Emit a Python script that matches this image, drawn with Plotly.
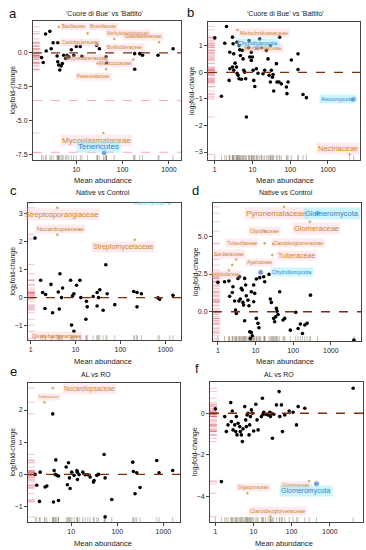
import math
import plotly.graph_objects as go

# ======================= DATA =======================
# panel a : 'Cuore di Bue' vs 'Battito'
a_x = [1.78, 1.93, 2.17, 2.24, 2.68, 2.87, 3.16, 3.98, 3.85, 3.98, 4.17, 4.39, 4.7, 5.0, 5.35, 5.9, 6.3,
       6.9, 7.8, 8.8, 10, 12.2, 13.2, 27.7, 31.6, 44, 45, 182, 182, 234, 268, 580, 1230]
a_y = [-0.34, -0.70, 1.39, 0.14, 1.59, 0.31, 0.75, 0.75, -0.22, -0.65, -0.89, -1.25, -0.96, -0.77, -0.17,
       -0.41, -0.17, -0.29, 0.24, -0.17, 0.48, 0.48, -0.24, 0.55, 0.31, -0.29, -0.72, -0.05, -1.2, -0.05,
       -0.17, -0.17, 0.31]
a_names = ['Bacillaceae', 'Brucellaceae', 'Methylobacteriaceae', 'Oxalobacteraceae', 'Caulobacteraceae',
           'Burkholderiaceae', 'Corynebacteriaceae', 'Micrococcaceae', 'Pasteurellaceae',
           'Mycoplasmataceae', 'Tenericutes']
a_lx = [4.17, 17.5, 66, 610, 28.7, 170, 28.7, 44, 44, 38.5, 39.8]
a_ly = [1.92, 1.44, 1.03, 0.79, 0.67, -0.48, -0.77, -0.48, -1.2, -5.89, -7.33]
a_kind = ['o'] * 10 + ['b']
a_ref = [-3.5, -7.3]

# panel b : 'Cuore di Bue' vs 'Battito'
b_x = [1.0, 1.5, 1.84, 2.04, 2.5, 2.4, 2.5, 2.94, 2.94, 3.18, 3.06, 3.18, 3.45, 3.75, 3.9, 3.9, 4.15, 4.4,
       4.4, 4.59, 4.78, 5.08, 5.4, 5.62, 5.86, 6.22, 6.6, 6.9, 7.8, 8.1, 8.45, 9.3, 9.3, 9.9, 10.4, 10.8,
       11.5, 12.7, 14.0, 17.2, 15.5, 19, 21, 23.3, 25.8, 27.5, 29.8, 31.6, 33.6, 35, 36.5, 43, 44.7, 52.6,
       50.4, 58, 79, 82, 87.5, 107, 161, 161, 218, 268, 29.8]
b_y = [1.3, -0.9, 1.1, 1.73, 0.76, -0.3, 0.14, 1.33, 0.2, 0.7, 1.08, 0.08, 0.35, 0.2, 1.14, -0.03, -0.11,
       -0.24, 1.01, 0.85, 0.64, -0.26, 0.83, 0.51, 0.08, 0.01, -0.24, -1.68, 0.95, 1.2, 0.58, 0.76, 0.45,
       0.58, 0.08, -0.3, -0.53, 0.14, -0.03, 0.95, 1.26, -0.05, 0.08, 0.83, 0.51, -0.11, -0.36, 0.08, -0.18,
       -0.08, -0.7, 0.33, -0.36, 1.33, -0.36, -0.43, -0.55, -0.8, -0.36, 0.47, 0.7, 0.11, -0.83, -0.95, 1.01]
b_names = ['Metschnikowiaceae', 'Mortierellaceae', 'Chytridiomycota', 'Ascomycota', 'Nectriaceae']
b_lx = [3.98, 17.2, 13.2, 4790, 3760]
b_ly = [1.6, 1.04, 0.93, -1.01, -3.09]
b_kind = ['o', 'o', 'b', 'b', 'o']

# panel c : Native vs Control
c_x = [1.25, 1.67, 1.85, 2.15, 2.08, 2.83, 3.08, 4.12, 4.33, 4.49, 4.88, 5.14, 7.74, 8.15, 8.58, 9.18, 9.18,
       10.5, 12.5, 13.1, 17, 17.5, 18.2, 24.7, 30.2, 30.2, 32.4, 34.7, 41.2, 47.2, 50.6, 74.8, 198, 234, 234,
       293, 687, 748, 1480]
c_y = [2.12, 0.62, 0.18, 0.11, -0.39, 0.47, -0.54, 0.2, -0.41, 0.85, 0.0, 0.34, 0.62, -0.98, 0.06, 0.14,
       -1.2, 0.44, 0.62, 0.0, -0.77, -0.13, -0.33, 0.04, 0.18, -0.3, 0.0, 0.28, -0.45, 1.17, 0.14, -0.25,
       0.22, 0.18, -0.33, 0.14, -0.01, -0.06, 0.08]
c_names = ['Streptosporangiaceae', 'Nocardiopsaceae', 'Streptomycetaceae', 'Oxalobacteraceae', 'Ascomycota']
c_lx = [3.91, 3.91, 208, 4.33, 1250]
c_ly = [3.2, 2.24, 2.06, -1.46, 3.37]
c_kind = ['o', 'o', 'o', 'o', 'g']

# panel d : Native vs Control
d_x = [1.0, 1.5, 1.96, 2.05, 2.41, 2.51, 2.78, 2.95, 3.08, 3.41, 3.77, 3.62, 3.93, 4.18, 4.44, 4.63, 4.82,
       5.13, 5.13, 5.45, 5.68, 6.3, 6.69, 6.97, 7.26, 7.71, 8.2, 7.71, 8.9, 9.46, 8.9, 10.5, 10.5, 11.6, 12.3,
       12.9, 16.4, 17.5, 22.8, 24.7, 26.3, 30.3, 32.2, 34.3, 35.7, 37.2, 39.5, 43.8, 53.7, 59.5, 84, 117,
       135, 155, 176, 203, 234, 287, 4090]
d_y = [1.95, 1.99, 2.04, 1.02, 1.28, 1.66, 0.71, 0.11, -0.11, 2.21, 2.32, 0.71, 0.84, 1.55, 1.44, 0.62,
       0.44, 2.21, -0.6, 1.77, 1.06, 0.77, 0.4, -1.33, -1.77, -1.37, -1.59, 1.33, 1.77, 1.22, 0.66, 2.17,
       -0.44, -0.77, -1.06, 2.26, 2.32, 1.99, 2.48, 0.84, 0.62, -0.44, -0.66, -0.33, 0.22, 0.04, -0.18, 1.33,
       -0.55, -0.44, -1.22, -0.04, -1.11, -0.82, -1.44, -0.88, -0.77, 1.1, -1.88]
d_names = ['Pyronemataceae', 'Glomeraceae', 'Glomeromycota', 'Olpidiaceae', 'Tubeufiaceae',
           'Claroideoglomeraceae', 'Tuberaceae', 'Sordariaceae', 'Agaricaceae', 'Ascobolaceae',
           'Chytridiomycota']
d_lx = [57, 275, 441, 17.5, 17.5, 29.1, 27.9, 3.08, 2.41, 1.96, 13.7]
d_ly = [6.95, 5.97, 6.53, 5.35, 4.54, 4.49, 3.76, 3.47, 3.1, 2.74, 2.61]
d_kind = ['o', 'o', 'b', 'o', 'o', 'o', 'o', 'o', 'o', 'o', 'b']

# panel e : AL vs RO
e_x = [1.66, 1.8, 2.06, 2.13, 2.73, 2.97, 4.0, 4.14, 4.28, 4.5, 4.65, 4.9, 5.32, 5.32, 7.8, 8.3, 8.75, 9.5,
       9.2, 10.3, 11.6, 13.3, 13.7, 13.7, 14.9, 17.9, 20.1, 23, 25.8, 30.5, 31.5, 36, 39.1, 51.9, 54.5, 54.5,
       76, 217, 224, 243, 264, 312, 717, 805, 1590]
e_y = [0.0, -0.34, -0.84, 0.07, -0.39, -0.36, 1.88, -0.86, 0.12, 0.0, 0.45, -0.03, -0.05, -0.81, 0.23,
       -0.32, 0.36, -0.44, -0.11, 0.07, -0.03, 0.12, 0.07, -0.16, -0.01, 0.07, -0.01, -0.01, -0.08, -0.24,
       -0.19, -0.03, 0.0, 0.62, -1.32, -0.11, -0.78, 0.38, 0.09, -0.6, 0.05, -0.41, 0.43, 0.05, 0.12]
e_names = ['Nocardiopsaceae', 'Kofleriaceae']
e_lx = [4.0, 2.64]
e_ly = [2.68, 2.24]
e_kind = ['o', 'o']

# panel f : AL vs RO
f_x = [1.0, 1.44, 1.76, 1.94, 2.15, 2.53, 2.63, 2.79, 2.91, 3.22, 3.42, 3.56, 3.7, 3.94, 4.35, 4.53, 4.81,
       5.11, 5.32, 5.89, 6.25, 6.51, 6.78, 7.2, 7.65, 7.96, 8.3, 8.8, 9.36, 10.1, 11.5, 12.4, 13.2, 16.1,
       17.1, 17.8, 18.6, 20.9, 24.1, 26.7, 27.8, 29.5, 31.3, 34, 39.9, 46.9, 48.8, 54, 57.4, 66, 85.9, 109,
       134, 148, 221, 4100]
f_y = [0.21, -3.28, -0.16, -0.88, -0.56, 0.51, -0.4, 0.11, -0.8, -0.56, -0.88, -0.16, -1.04, -0.48, -0.64,
       -0.88, -1.04, -1.36, -0.75, 0.32, -0.32, -0.64, -0.08, 0.0, -1.04, -0.56, -0.16, 0.16, 0.0, -0.85,
       0.43, -0.32, -0.8, -0.16, 0.72, -0.05, 0.05, -0.05, -0.08, 0.05, -0.16, 0.0, -1.2, -0.05, 0.4, 1.04,
       -0.16, 0.4, -0.88, -0.08, 0.11, 0.05, -0.56, 0.32, 0.24, 1.2]
f_names = ['Glomeraceae', 'Glomeromycota', 'Gigasporaceae', 'Claroideoglomeraceae']
f_lx = [287, 448, 6.92, 27.8]
f_ly = [-3.25, -3.39, -3.84, -4.96]
f_kind = ['o', 'b', 'o', 'o']

titles = ["'Cuore di Bue' vs 'Battito'", "'Cuore di Bue' vs 'Battito'", "Native vs Control",
          "Native vs Control", "AL vs RO", "AL vs RO"]
letters = ['a', 'b', 'c', 'd', 'e', 'f']

# ======================= STYLE / LAYOUT =======================
W, H = 366, 550
FONT = "Liberation Sans, Arial, sans-serif"

a_dx = [15, 16, 14, -16, -17, -8, -11, 9, -13, -7, -6]
a_dy = [0, 7, 5, 6, 1, 12, 5, -4, -7, -7, 6]
a_fs = [4.5] * 9 + [8, 8]
b_dx = [27, 2, 1, -16, -12]
b_dy = [-3, -3, 5, 0, 6]
b_fs = [5.5, 5.5, 5.5, 6, 7.5]
c_dx = [4, 3, -12, -3, -20]
c_dy = [-7, 6, -7, 3, 0]
c_fs = [7.5, 6, 7, 6, 5.5]
d_dx = [-8, 7, 15, 0, -23, 25, 24, -7, 28, -3, 31]
d_dy = [-7, -7, 0, 0, 0, 1, 0, 5, 2, -4, 0]
d_fs = [8, 7.5, 7.5, 5.5, 5, 5, 7, 5, 4.5, 4.5, 5.5]
e_dx = [37, 5]
e_dy = [-1, 5]
e_fs = [6.5, 3.5]
f_dx = [-13, -11, 6, 7]
f_dy = [-5, -7, 6, 6]
f_fs = [4.5, 7, 4.5, 5.5]

# pixel boxes of each plot area: (left, right, top, bottom)
boxes = [(33, 181, 21, 160), (208, 360, 22, 160),
         (28, 181, 203, 340), (213, 361, 203, 341),
         (28, 180, 383, 522), (210, 363, 382, 522)]
xranges = [[0.065, 3.26], [-0.18, 3.85], [-0.06, 3.35], [-0.13, 3.8], [0.065, 3.36], [-0.14, 3.87]]
yranges = [[-7.87, 2.35], [-3.3, 1.9], [-1.51, 3.37], [-1.94, 7.21], [-1.48, 2.84], [-5.22, 1.5]]
yticks = [([-7.5, -5, -2.5, 0], ['-7.5', '-5.0', '-2.5', '0.0']),
          ([-3, -2, -1, 0, 1], None),
          ([-1, 0, 1, 2, 3], None),
          ([0, 2.5, 5], ['0.0', '2.5', '5.0']),
          ([-1, 0, 1, 2], None),
          ([-4, -2, 0], None)]
xtick_vals = [1, 10, 100, 1000]
title_pos = [(104, 13), (285, 13), (103, 193), (286, 193), (96, 374), (279, 374)]
letter_pos = [(13, 13), (190, 12), (13, 190), (195, 190), (13, 371), (197, 368)]
xtitle_pos = [(103, 180), (285, 180), (103, 361), (285, 361), (103, 543), (284, 543)]
ytitle_x = [12, 192, 12, 196, 12, 195]

ORANGE = '#c8862a'
BLUE_PT = '#3c6fc4'
BLUE_TX = '#3a7ec8'
GHOST = 'rgba(70,215,235,0.85)'

panels = [
    (a_x, a_y, a_names, a_lx, a_ly, a_kind, a_dx, a_dy, a_fs),
    (b_x, b_y, b_names, b_lx, b_ly, b_kind, b_dx, b_dy, b_fs),
    (c_x, c_y, c_names, c_lx, c_ly, c_kind, c_dx, c_dy, c_fs),
    (d_x, d_y, d_names, d_lx, d_ly, d_kind, d_dx, d_dy, d_fs),
    (e_x, e_y, e_names, e_lx, e_ly, e_kind, e_dx, e_dy, e_fs),
    (f_x, f_y, f_names, f_lx, f_ly, f_kind, f_dx, f_dy, f_fs),
]


def paper_note(px_x, px_y, text, size, color='#222', angle=0):
    return dict(x=px_x / W, y=1 - px_y / H, xref='paper', yref='paper', text=text,
                xanchor='center', yanchor='middle', textangle=angle, showarrow=False,
                font=dict(size=size, color=color, family=FONT))


fig = go.Figure()
shapes = []
annotations = []
layout_axes = {}

for i, (px, py, names, lx, ly, kind, dx, dy, fs) in enumerate(panels):
    n = '' if i == 0 else str(i + 1)
    xa, ya = 'x' + n, 'y' + n
    L, R, T, B = boxes[i]
    layout_axes['xaxis' + n] = dict(
        domain=[L / W, R / W], anchor=ya, type='log', range=xranges[i], automargin=False,
        tickvals=xtick_vals, ticktext=[str(v) for v in xtick_vals],
        showline=True, linecolor='#444', linewidth=1, mirror=True,
        ticks='outside', ticklen=3, tickcolor='#444', tickwidth=1,
        tickfont=dict(size=7, color='#222', family=FONT),
        showgrid=False, zeroline=False)
    yt = yticks[i]
    ydict = dict(
        domain=[1 - B / H, 1 - T / H], anchor=xa, range=yranges[i], automargin=False,
        tickvals=yt[0], showline=True, linecolor='#444', linewidth=1, mirror=True,
        ticks='outside', ticklen=3, tickcolor='#444', tickwidth=1,
        tickfont=dict(size=7, color='#222', family=FONT),
        showgrid=False, zeroline=False)
    if yt[1] is not None:
        ydict['ticktext'] = yt[1]
    layout_axes['yaxis' + n] = ydict

    all_x = list(px) + list(lx)
    all_y = list(py) + list(ly)

    # rugs
    for yv in all_y:
        shapes.append(dict(type='line', xref=xa + ' domain', yref=ya, x0=0, x1=0.045, y0=yv, y1=yv,
                           line=dict(color='rgba(225,95,115,0.45)', width=0.8), layer='below'))
    for xv in all_x:
        shapes.append(dict(type='line', xref=xa, yref=ya + ' domain', x0=xv, x1=xv, y0=0, y1=0.035,
                           line=dict(color='rgba(120,105,80,0.55)', width=0.8), layer='below'))
    # zero line
    shapes.append(dict(type='line', xref=xa + ' domain', yref=ya, x0=0, x1=1, y0=0, y1=0,
                       line=dict(color='#7a2e12', width=1.3, dash='dash')))
    if i == 0:
        for rv in a_ref:
            shapes.append(dict(type='line', xref=xa + ' domain', yref=ya, x0=0, x1=1, y0=rv, y1=rv,
                               line=dict(color='rgba(255,120,200,0.7)', width=1, dash='dash'),
                               layer='below'))

    # black points
    fig.add_trace(go.Scatter(x=px, y=py, xaxis=xa, yaxis=ya, mode='markers',
                             marker=dict(color='black', size=3.6), hoverinfo='skip'))
    # highlighted points
    cols = [ORANGE if k == 'o' else (BLUE_PT if k == 'b' else GHOST) for k in kind]
    sizes = [3.6 if k == 'o' else (6 if k == 'b' else 4.5) for k in kind]
    fig.add_trace(go.Scatter(x=lx, y=ly, xaxis=xa, yaxis=ya, mode='markers',
                             marker=dict(color=cols, size=sizes), hoverinfo='skip'))
    for j, name in enumerate(names):
        k = kind[j]
        if k == 'o':
            tc, bg = ORANGE, 'rgba(255,185,200,0.30)'
        elif k == 'b':
            tc, bg = BLUE_TX, 'rgba(140,235,250,0.45)'
        else:
            tc, bg = GHOST, 'rgba(0,0,0,0)'
        annotations.append(dict(x=math.log10(lx[j]), y=ly[j], xref=xa, yref=ya, text=name,
                                xanchor='center', yanchor='middle',
                                showarrow=False, xshift=dx[j], yshift=dy[j],
                                font=dict(size=fs[j], color=tc, family=FONT),
                                bgcolor=bg, borderpad=1))

    # titles and axis titles
    annotations.append(paper_note(*title_pos[i], titles[i], 7))
    annotations.append(paper_note(*letter_pos[i], letters[i], 13, '#111'))
    annotations.append(paper_note(*xtitle_pos[i], 'Mean abundance', 7.5))
    annotations.append(paper_note(ytitle_x[i], (T + B) / 2, 'log<sub>2</sub>fold-change', 7, angle=-90))

fig.update_layout(template='none', width=W, height=H, margin=dict(l=0, r=0, t=0, b=0, pad=0),
                  paper_bgcolor='white', plot_bgcolor='white', showlegend=False,
                  shapes=shapes, annotations=annotations, font=dict(family=FONT),
                  **layout_axes)
fig.write_html("out.html", config={'displayModeBar': False},
               post_script="document.body.style.margin='0';")
